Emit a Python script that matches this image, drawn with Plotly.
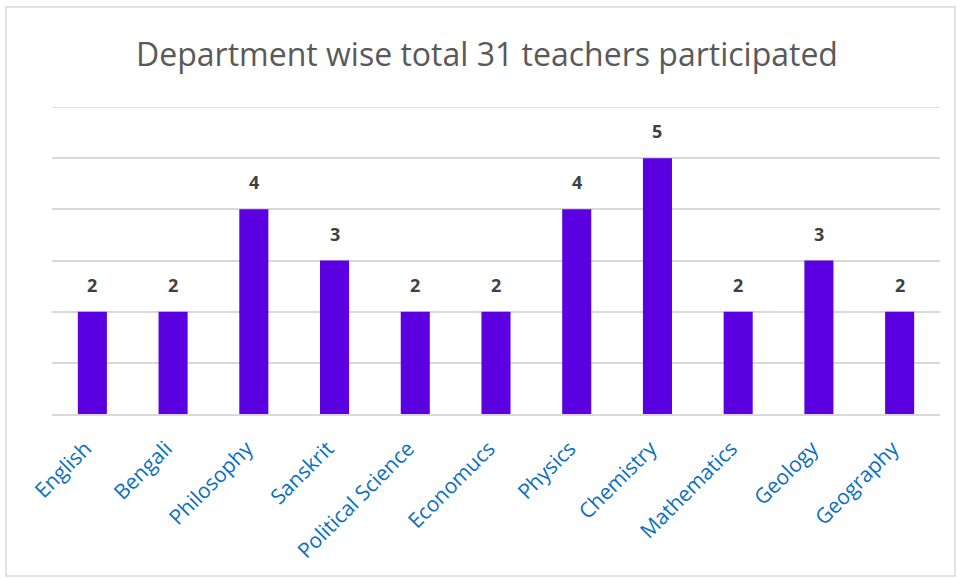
import plotly.graph_objects as go

departments = ["English", "Bengali", "Philosophy", "Sanskrit", "Political Science",
               "Economucs", "Physics", "Chemistry", "Mathematics", "Geology", "Geography"]
teachers = [2, 2, 4, 3, 2, 2, 4, 5, 2, 3, 2]
title_text = "Department wise total 31 teachers participated"
y_max = 6

W, H = 957, 579
L, R, T, B = 52, 17, 107, 165
pw, ph = W - L - R, H - T - B

def px_to_paper_x(px):
    return (px - L) / pw

def px_to_paper_y(py):
    return (H - B - py) / ph

fig = go.Figure()
fig.add_trace(go.Bar(
    x=departments, y=teachers,
    marker=dict(color="#5B00E1", line=dict(width=0)),
    hoverinfo="x+y",
))

for d, v in zip(departments, teachers):
    fig.add_annotation(x=d, y=v, text=f"<b>{v}</b>", showarrow=False,
                       yanchor="bottom", yshift=13,
                       font=dict(family="Open Sans, DejaVu Sans, sans-serif", size=18, color="#404040"))

fig.add_shape(type="rect", xref="paper", yref="paper",
              x0=px_to_paper_x(6), x1=px_to_paper_x(955),
              y0=px_to_paper_y(576), y1=px_to_paper_y(7),
              line=dict(color="#D9D9D9", width=1.5), layer="below")
fig.add_shape(type="line", xref="paper", yref="y", x0=0, x1=1, y0=y_max, y1=y_max,
              line=dict(color="#D9D9D9", width=1.5), layer="below")

fig.update_layout(
    width=W, height=H,
    margin=dict(l=L, r=R, t=T, b=B, autoexpand=False),
    paper_bgcolor="white", plot_bgcolor="white",
    title=dict(text=title_text, x=487 / W, xref="container", xanchor="center",
               y=1 - 55 / H, yanchor="middle",
               font=dict(family="Open Sans, Liberation Sans, sans-serif", size=32, color="#595959")),
    bargap=0.64,
    showlegend=False,
    xaxis=dict(tickangle=-45, showgrid=False, showline=True, linecolor="#D9D9D9", linewidth=2,
               ticks="", automargin=False, ticklabelstandoff=12, ticklabelshift=-7,
               tickfont=dict(family="Open Sans, DejaVu Sans, sans-serif", size=21, color="#0A6FC2")),
    yaxis=dict(range=[0, y_max], tickvals=[1, 2, 3, 4, 5], showticklabels=False, showgrid=True,
               gridcolor="#D9D9D9", gridwidth=1.5, zeroline=False, showline=False),
)

fig.write_html("out.html", config={"displayModeBar": False},
               post_script="document.body.style.margin='0px';")
